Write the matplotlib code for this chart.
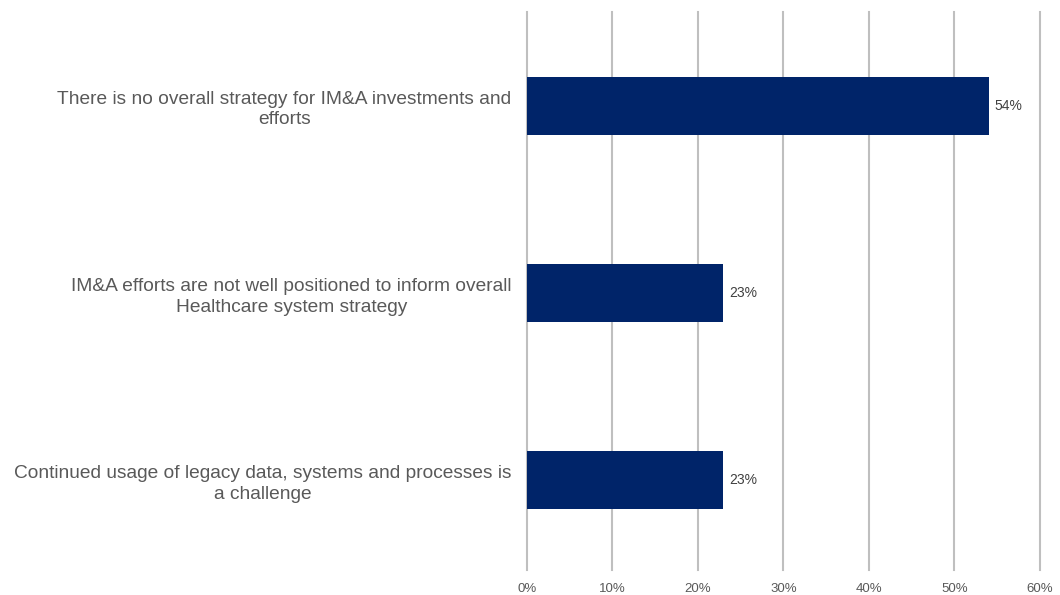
import matplotlib.pyplot as plt
from matplotlib.ticker import FuncFormatter

plt.rcParams['font.family'] = ['Liberation Sans', 'DejaVu Sans']

labels = ['Continued usage of legacy data, systems and processes is\na challenge',
          'IM&A efforts are not well positioned to inform overall\nHealthcare system strategy',
          'There is no overall strategy for IM&A investments and\nefforts']
values = [23, 23, 54]

fig = plt.figure(figsize=(10.6, 5.95), dpi=100)
ax = fig.add_axes([0.497, 0.042, 0.484, 0.938])

ypos = range(len(values))
ax.barh(ypos, values, height=0.31, color='#002469', zorder=3)
for y, v in zip(ypos, values):
    ax.text(v + 0.7, y, f'{v}%', va='center', ha='left', fontsize=10, color='#404040')

ax.set_xlim(0, 60)
ax.set_ylim(-0.48, 2.5)
ax.set_xticks(range(0, 61, 10))
ax.xaxis.set_major_formatter(FuncFormatter(lambda x, p: f'{x:.0f}%'))
ax.set_yticks(list(ypos))
ax.set_yticklabels(labels, fontsize=13.8, color='#595959', multialignment='center',
                   linespacing=1.3)
ax.tick_params(axis='y', length=0, pad=11)
ax.tick_params(axis='x', length=0, pad=9, labelsize=9.5, labelcolor='#595959')
ax.grid(axis='x', color='#bfbfbf', linewidth=1.5, zorder=0)
for gl in ax.get_xgridlines():
    gl.set_clip_on(False)
for s in ax.spines.values():
    s.set_visible(False)

fig.savefig('out.png', dpi=100)
